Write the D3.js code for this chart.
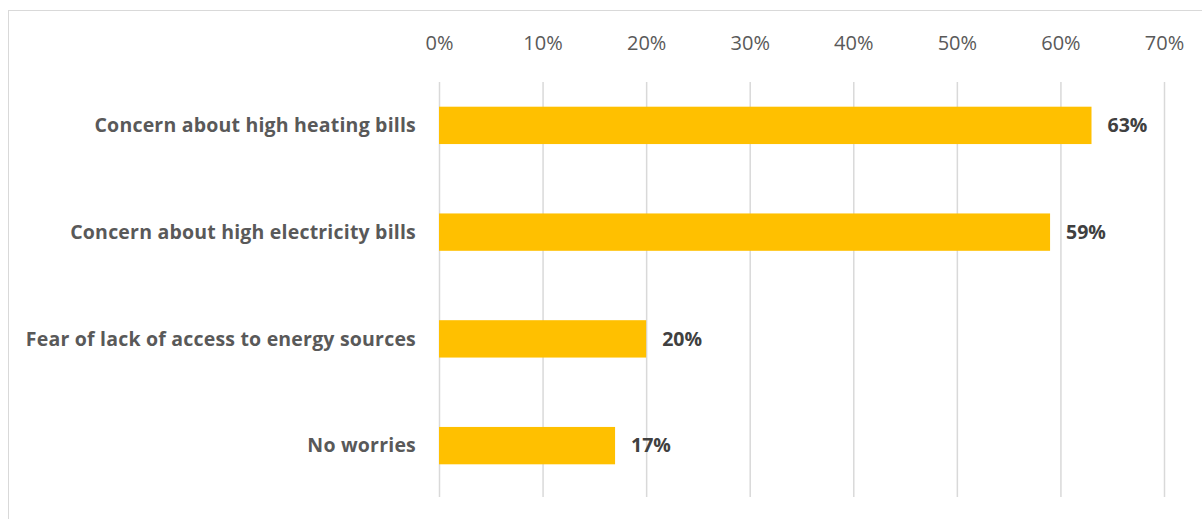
<!DOCTYPE html>
<html lang="en">
<head>
<meta charset="UTF-8">
<title>Energy concerns</title>
<script src="https://d3js.org/d3.v7.min.js"></script>
<style>
  body { margin: 0; padding: 0; background: #fff; font-family: "Open Sans", sans-serif; }
  .tick line { stroke: #d9d9d9; }
  .tick text { fill: #595959; font-size: 20px; }
  .cat { fill: #595959; font-size: 19.5px; font-weight: bold; letter-spacing: 0.2px; }
  .val { fill: #404040; font-size: 19.5px; font-weight: bold; }
</style>
</head>
<body>
<svg id="chart" width="1202" height="519"></svg>
<script>
// data
const categories = [
  "Concern about high heating bills",
  "Concern about high electricity bills",
  "Fear of lack of access to energy sources",
  "No worries"
];
const values = [0.63, 0.59, 0.20, 0.17];
const tickValues = [0, 0.1, 0.2, 0.3, 0.4, 0.5, 0.6, 0.7];

const svg = d3.select("#chart");

// outer frame (only top and left edges are visible in the crop)
svg.append("rect")
  .attr("x", 8.5).attr("y", 10.5)
  .attr("width", 1300).attr("height", 600)
  .attr("fill", "none")
  .attr("stroke", "#d9d9d9");

const x = d3.scaleLinear().domain([0, 0.7]).range([439, 1164]);
const y = d3.scaleBand().domain(categories).range([72, 499]).paddingInner(0.65).paddingOuter(0.325);

// gridlines + top tick labels
const xAxis = svg.append("g")
  .attr("transform", "translate(0,82)")
  .call(d3.axisTop(x).tickValues(tickValues).tickFormat(d3.format(".0%")).tickSize(-415).tickPadding(0));
xAxis.select(".domain").remove();
xAxis.selectAll(".tick line").attr("stroke", "#d9d9d9").attr("stroke-width", 1.5);
xAxis.selectAll(".tick text").attr("y", -39).attr("dy", "0.35em").attr("font-family", "'Open Sans', sans-serif");

// bars
svg.selectAll(".bar")
  .data(values)
  .enter()
  .append("rect")
  .attr("class", "bar")
  .attr("x", x(0))
  .attr("y", (d, i) => y(categories[i]))
  .attr("width", d => x(d) - x(0))
  .attr("height", y.bandwidth())
  .attr("fill", "#ffc000");

// category labels
svg.selectAll(".cat")
  .data(categories)
  .enter()
  .append("text")
  .attr("class", "cat")
  .attr("x", 416)
  .attr("y", d => y(d) + y.bandwidth() / 2)
  .attr("dy", "0.35em")
  .attr("text-anchor", "end")
  .text(d => d);

// value labels
svg.selectAll(".val")
  .data(values)
  .enter()
  .append("text")
  .attr("class", "val")
  .attr("x", d => x(d) + 16)
  .attr("y", (d, i) => y(categories[i]) + y.bandwidth() / 2)
  .attr("dy", "0.35em")
  .text(d => d3.format(".0%")(d));
</script>
</body>
</html>
